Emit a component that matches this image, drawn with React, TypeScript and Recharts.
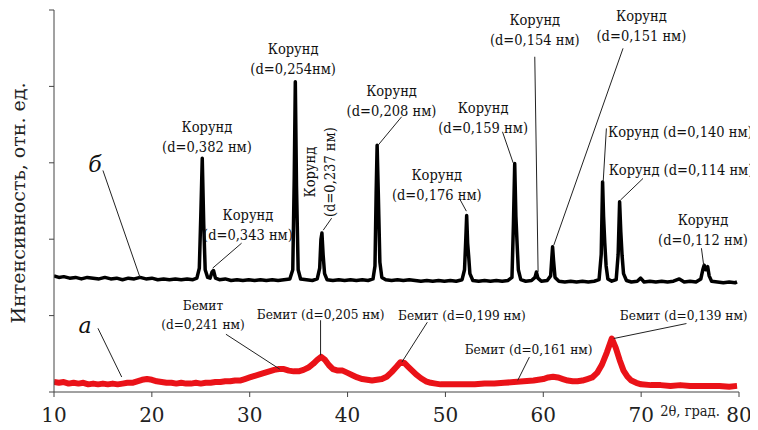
import React from 'react';
import { LineChart, Line, XAxis, YAxis, ReferenceLine, ReferenceDot } from 'recharts';

const SERIF = "'DejaVu Serif', serif";
const SERIF_C = "'DejaVu Serif Condensed', 'DejaVu Serif', serif";

// Curve б (corundum, black)
const blackTheta = [
  10.0, 10.5, 11.0, 11.6, 12.2, 12.8, 13.4, 14.0, 14.6, 15.2, 15.8, 16.4, 17.0, 17.6, 18.2, 18.8, 19.4, 20.0,
  20.6, 21.2, 21.8, 22.4, 23.0, 23.6, 24.2, 24.6, 24.85, 25.0, 25.15, 25.3, 25.45, 25.7, 25.95, 26.15, 26.3,
  26.5, 26.9, 27.5, 28.1, 28.7, 29.3, 29.9, 30.5, 31.1, 31.7, 32.3, 32.9, 33.5, 34.1, 34.4, 34.55, 34.66,
  34.78, 34.95, 35.2, 35.8, 36.4, 36.9, 37.15, 37.28, 37.38, 37.5, 37.65, 37.9, 38.5, 39.1, 39.7, 40.3, 40.9,
  41.5, 42.1, 42.6, 42.8, 42.92, 43.02, 43.14, 43.3, 43.5, 43.9, 44.5, 45.1, 45.7, 46.3, 46.9, 47.5, 48.1,
  48.7, 49.3, 49.9, 50.5, 51.1, 51.7, 51.95, 52.08, 52.17, 52.27, 52.38, 52.5, 52.8, 53.4, 54.0, 54.6, 55.2,
  55.8, 56.4, 56.8, 56.95, 57.08, 57.2, 57.32, 57.45, 57.7, 58.2, 58.8, 59.15, 59.3, 59.45, 59.8, 60.4, 60.75,
  60.87, 60.95, 61.05, 61.2, 61.6, 62.2, 62.8, 63.4, 64.0, 64.6, 65.2, 65.7, 65.92, 66.06, 66.16, 66.28, 66.42,
  66.6, 67.0, 67.45, 67.65, 67.8, 67.92, 68.05, 68.2, 68.5, 69.0, 69.6, 69.95, 70.3, 70.9, 71.5, 72.1, 72.7,
  73.3, 73.9, 74.4, 75.0, 75.6, 76.1, 76.3, 76.44, 76.6, 76.8, 76.95, 77.2, 77.8, 78.4, 79.0, 79.6, 79.8,
];
const blackIntensity = [
  1.52, 1.5, 1.51, 1.49, 1.5, 1.48, 1.5, 1.49, 1.48, 1.5, 1.48, 1.49, 1.47, 1.49, 1.48, 1.5, 1.48, 1.49,
  1.47, 1.48, 1.47, 1.48, 1.47, 1.48, 1.47, 1.49, 1.62, 2.3, 3.06, 2.2, 1.6, 1.5, 1.49, 1.57, 1.59,
  1.49, 1.47, 1.48, 1.46, 1.47, 1.46, 1.47, 1.46, 1.47, 1.46, 1.47, 1.46, 1.47, 1.48, 1.6, 2.8, 4.06,
  2.7, 1.6, 1.48, 1.47, 1.46, 1.48, 1.62, 2.0, 2.08, 1.8, 1.55, 1.47, 1.46, 1.47, 1.46, 1.47, 1.46,
  1.47, 1.46, 1.48, 1.65, 2.6, 3.23, 2.6, 1.7, 1.5, 1.47, 1.46, 1.47, 1.46, 1.47, 1.46, 1.45, 1.46,
  1.45, 1.46, 1.45, 1.46, 1.45, 1.47, 1.6, 2.0, 2.31, 1.95, 1.77, 1.55, 1.46, 1.45, 1.46, 1.45, 1.46,
  1.45, 1.46, 1.5, 2.2, 2.99, 2.3, 1.95, 1.6, 1.47, 1.45, 1.46, 1.5, 1.57, 1.49, 1.45, 1.46, 1.52,
  1.75, 1.9, 1.72, 1.5, 1.45, 1.44, 1.45, 1.44, 1.45, 1.44, 1.45, 1.47, 1.8, 2.75, 2.3, 1.96, 1.65,
  1.48, 1.45, 1.47, 1.8, 2.49, 2.1, 1.79, 1.55, 1.46, 1.44, 1.45, 1.49, 1.44, 1.45, 1.44, 1.45, 1.44,
  1.45, 1.48, 1.44, 1.45, 1.44, 1.48, 1.6, 1.66, 1.6, 1.64, 1.52, 1.45, 1.44, 1.43, 1.44, 1.43, 1.44,
];

// Curve а (boehmite, red)
const redTheta = [
  10.0, 10.5, 11.0, 11.5, 12.0, 12.5, 13.0, 13.5, 14.0, 14.5, 15.0, 15.5, 16.0, 16.5, 17.0, 17.5, 18.0, 18.5,
  19.0, 19.5, 20.0, 20.5, 21.0, 21.5, 22.0, 22.5, 23.0, 23.5, 24.0, 24.5, 25.0, 25.5, 26.0, 26.5, 27.0, 27.5,
  28.0, 28.5, 29.0, 29.5, 30.0, 30.5, 31.0, 31.5, 32.0, 32.5, 33.0, 33.5, 34.0, 34.5, 35.0, 35.5, 36.0, 36.5,
  36.9, 37.3, 37.7, 38.1, 38.5, 39.0, 39.5, 40.0, 40.5, 41.0, 41.5, 42.0, 42.5, 43.0, 43.5, 44.0, 44.5, 45.0,
  45.4, 45.8, 46.2, 46.6, 47.0, 47.5, 48.0, 48.5, 49.0, 49.5, 50.0, 51.0, 52.0, 53.0, 54.0, 55.0, 56.0, 57.0,
  58.0, 59.0, 60.0, 60.5, 61.0, 61.5, 62.0, 62.5, 63.0, 63.5, 64.0, 64.5, 65.0, 65.5, 66.0, 66.5, 67.0, 67.4,
  67.8, 68.2, 68.6, 69.0, 69.5, 70.0, 71.0, 72.0, 73.0, 74.0, 75.0, 76.0, 77.0, 78.0, 79.0, 79.8,
];
const redIntensity = [
  0.13, 0.12, 0.13, 0.11, 0.12, 0.11, 0.12, 0.1, 0.11, 0.1, 0.11, 0.1, 0.11, 0.1, 0.11, 0.12, 0.12, 0.14,
  0.16, 0.17, 0.16, 0.14, 0.13, 0.12, 0.12, 0.11, 0.12, 0.11, 0.11, 0.12, 0.11, 0.12, 0.12, 0.13, 0.13, 0.14,
  0.14, 0.15, 0.15, 0.17, 0.19, 0.21, 0.23, 0.25, 0.27, 0.29, 0.3, 0.3, 0.28, 0.27, 0.27, 0.29, 0.32, 0.37,
  0.42, 0.46, 0.42, 0.35, 0.3, 0.28, 0.28, 0.25, 0.22, 0.19, 0.17, 0.16, 0.15, 0.16, 0.17, 0.2, 0.26, 0.33,
  0.39, 0.38, 0.33, 0.28, 0.23, 0.18, 0.14, 0.12, 0.11, 0.1, 0.1, 0.1, 0.1, 0.1, 0.11, 0.11, 0.12, 0.13,
  0.14, 0.15, 0.17, 0.19, 0.2, 0.19, 0.17, 0.15, 0.14, 0.14, 0.15, 0.17, 0.19, 0.25, 0.36, 0.52, 0.7, 0.58,
  0.42, 0.28, 0.2, 0.15, 0.12, 0.1, 0.09, 0.09, 0.08, 0.09, 0.08, 0.08, 0.08, 0.08, 0.07, 0.08,
];

const xTicks = [10, 20, 30, 40, 50, 60, 70, 80];
const yTicks = [0, 1, 2, 3, 4, 5];

const yAxisTitle = 'Интенсивность, отн. ед.';
const xAxisTitle = '2θ, град.';

// annotation anchors in data coordinates [2θ, intensity]
const corundumLabels = [
  { t: 25.63, v: 3.467, text: ['Корунд', '(d=0,382 нм)'] },
  { t: 29.82, v: 2.315, text: ['Корунд', '(d=0,343 нм)'] },
  { t: 34.44, v: 4.489, text: ['Корунд', '(d=0,254нм)'] },
  { t: 37.22, v: 2.878, text: ['Корунд', '(d=0,237 нм)'], vertical: true },
  { t: 44.49, v: 3.943, text: ['Корунд', '(d=0,208 нм)'] },
  { t: 49.12, v: 2.839, text: ['Корунд', '(d=0,176 нм)'] },
  { t: 53.85, v: 3.716, text: ['Корунд', '(d=0,159 нм)'] },
  { t: 59.13, v: 4.869, text: ['Корунд', '(d=0,154 нм)'] },
  { t: 70.03, v: 4.921, text: ['Корунд', '(d=0,151 нм)'] },
  { t: 66.62, v: 3.406, text: ['Корунд (d=0,140 нм)'], start: true },
  { t: 66.69, v: 2.904, text: ['Корунд (d=0,114 нм)'], start: true },
  { t: 76.32, v: 2.249, text: ['Корунд', '(d=0,112 нм)'] },
];
const boehmiteLabels = [
  { t: 25.22, v: 1.136, text: ['Бемит', '(d=0,241 нм)'] },
  { t: 37.25, v: 1.027, text: ['Бемит (d=0,205 нм)'] },
  { t: 51.68, v: 1.005, text: ['Бемит (d=0,199 нм)'] },
  { t: 58.5, v: 0.565, text: ['Бемит (d=0,161 нм)'] },
  { t: 74.35, v: 1.005, text: ['Бемит (d=0,139 нм)'] },
];
const curveNames = [
  { t: 14.19, v: 2.98, text: 'б' },
  { t: 13.17, v: 0.874, text: 'а' },
];
const leaders = [
  [15.0, 2.9, 18.78, 1.503],
  [14.49, 0.834, 16.92, 0.196],
  [29.17, 1.948, 26.21, 1.621],
  [38.37, 2.275, 37.51, 2.118],
  [45.52, 3.602, 43.13, 3.232],
  [51.47, 2.524, 52.14, 2.367],
  [55.83, 3.406, 56.92, 3.0],
  [59.13, 4.388, 59.47, 1.572],
  [68.15, 4.498, 61.07, 1.921],
  [66.45, 3.45, 66.12, 2.75],
  [70.19, 2.795, 67.88, 2.511],
  [76.16, 1.882, 76.39, 1.659],
  [27.57, 0.756, 33.08, 0.298],
  [37.24, 0.939, 37.24, 0.481],
  [48.15, 0.913, 45.55, 0.391],
  [58.58, 0.457, 57.39, 0.152],
  [74.63, 0.896, 67.2, 0.7],
];

const blackData = blackTheta.map((t, i) => ({ t, v: blackIntensity[i] }));
const redData = redTheta.map((t, i) => ({ t, v: redIntensity[i] }));

const condensed = { fontFamily: SERIF_C, fontStretch: 'condensed' as const };

const makeLabelShape = (lines: string[], fontSize: number, gap: number, start?: boolean, vertical?: boolean) =>
  (props: any) => {
    const { cx, cy } = props;
    if (vertical) {
      return (
        <g transform={`translate(${cx},${cy}) rotate(-90)`}>
          {lines.map((l, i) => (
            <text key={i} x={0} y={(i - (lines.length - 1) / 2) * gap} textAnchor="middle" dominantBaseline="central"
              style={condensed} fontSize={fontSize} fill="#111">{l}</text>
          ))}
        </g>
      );
    }
    return (
      <g>
        {lines.map((l, i) => (
          <text key={i} x={cx} y={cy + i * gap} textAnchor={start ? 'start' : 'middle'} dominantBaseline="central"
            style={condensed} fontSize={fontSize} fill="#111">{l}</text>
        ))}
      </g>
    );
  };

const nameShape = (txt: string) => (props: any) => (
  <text x={props.cx} y={props.cy} textAnchor="middle" dominantBaseline="central" style={{ fontFamily: SERIF }}
    fontStyle="italic" fontSize={22} fill="#111">{txt}</text>
);

export default function App() {
  return (
    <div style={{ marginLeft: -8, marginTop: -8, width: 758, height: 430 }}>
      <LineChart width={758} height={430} margin={{ top: 10, right: 19, left: 0, bottom: 0 }}>
        <XAxis
          dataKey="t"
          type="number"
          domain={[10, 80]}
          ticks={xTicks}
          allowDataOverflow
          height={38}
          tickSize={5}
          tickMargin={11}
          stroke="#444"
          tick={{ fontSize: 20, fill: '#222', style: { fontFamily: SERIF } }}
          label={{
            content: (p: any) => {
              const vb = p.viewBox;
              return (
                <text x={vb.x + vb.width - 49} y={vb.y + 19} textAnchor="middle" dominantBaseline="central"
                  style={condensed} fontSize={14.5} fill="#222">{xAxisTitle}</text>
              );
            },
          }}
        />
        <YAxis
          type="number"
          domain={[0, 5]}
          ticks={yTicks}
          width={54}
          tickSize={5}
          tickFormatter={() => ''}
          stroke="#444"
          label={{
            content: (p: any) => {
              const vb = p.viewBox;
              const cx = vb.x + 18;
              const cy = vb.y + vb.height / 2 + 2;
              return (
                <text x={cx} y={cy} transform={`rotate(-90 ${cx} ${cy})`} textAnchor="middle" dominantBaseline="central"
                  style={{ fontFamily: SERIF }} fontSize={19} fill="#222">{yAxisTitle}</text>
              );
            },
          }}
        />
        <Line data={redData} dataKey="v" type="linear" stroke="#ea1218" strokeWidth={6} dot={false}
          isAnimationActive={false} strokeLinejoin="round" />
        <Line data={blackData} dataKey="v" type="linear" stroke="#000" strokeWidth={3.5} dot={false}
          isAnimationActive={false} strokeLinejoin="round" />
        {leaders.map((s, i) => (
          <ReferenceLine key={'l' + i} segment={[{ x: s[0], y: s[1] }, { x: s[2], y: s[3] }]} stroke="#222"
            strokeWidth={1} ifOverflow="visible" />
        ))}
        {corundumLabels.map((lb, i) => (
          <ReferenceDot key={'c' + i} x={lb.t} y={lb.v} r={0} ifOverflow="visible"
            shape={makeLabelShape(lb.text, 14.5, 20, lb.start, lb.vertical)} />
        ))}
        {boehmiteLabels.map((lb, i) => (
          <ReferenceDot key={'b' + i} x={lb.t} y={lb.v} r={0} ifOverflow="visible"
            shape={makeLabelShape(lb.text, 13.5, 18.5)} />
        ))}
        {curveNames.map((lb, i) => (
          <ReferenceDot key={'n' + i} x={lb.t} y={lb.v} r={0} ifOverflow="visible" shape={nameShape(lb.text)} />
        ))}
      </LineChart>
    </div>
  );
}
